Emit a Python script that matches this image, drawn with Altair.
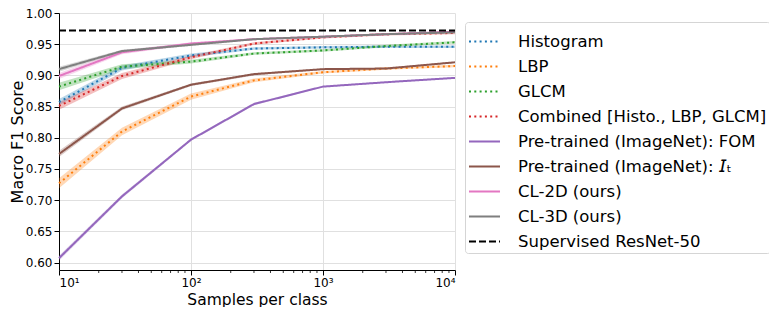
import altair as alt
import pandas as pd

# ---------------- data ----------------
x_samples = [10, 30, 100, 300, 1000, 3000, 10000]

series_names = [
    "Histogram",
    "LBP",
    "GLCM",
    "Combined [Histo., LBP, GLCM]",
    "Pre-trained (ImageNet): FOM",
    "Pre-trained (ImageNet): 𝘐ₜ",
    "CL-2D (ours)",
    "CL-3D (ours)",
    "Supervised ResNet-50",
]

histogram = [0.857, 0.912, 0.932, 0.943, 0.945, 0.946, 0.946]
lbp = [0.727, 0.810, 0.866, 0.892, 0.905, 0.911, 0.915]
glcm = [0.882, 0.914, 0.922, 0.935, 0.940, 0.947, 0.953]
combined = [0.851, 0.899, 0.929, 0.951, 0.961, 0.966, 0.968]
fom = [0.607, 0.706, 0.797, 0.854, 0.882, 0.889, 0.896]
imagenet_it = [0.774, 0.847, 0.885, 0.902, 0.910, 0.911, 0.921]
cl2d = [0.899, 0.937, 0.951, 0.958, 0.962, 0.966, 0.970]
cl3d = [0.910, 0.939, 0.949, 0.958, 0.962, 0.966, 0.969]
supervised = 0.972

# half-width of the shaded bands
histogram_err = [0.005, 0.004, 0.003, 0.002, 0.002, 0.002, 0.002]
lbp_err = [0.008, 0.006, 0.005, 0.003, 0.002, 0.002, 0.002]
glcm_err = [0.006, 0.004, 0.003, 0.002, 0.002, 0.002, 0.002]
combined_err = [0.006, 0.005, 0.003, 0.002, 0.002, 0.002, 0.002]
fom_err = [0.004, 0.003, 0.002, 0.002, 0.001, 0.001, 0.001]
imagenet_it_err = [0.005, 0.003, 0.002, 0.002, 0.001, 0.001, 0.001]
cl2d_err = [0.005, 0.003, 0.002, 0.001, 0.001, 0.001, 0.001]
cl3d_err = [0.004, 0.002, 0.002, 0.001, 0.001, 0.001, 0.001]

x_major_ticks = [10, 100, 1000, 10000]
x_minor_ticks = [20, 30, 40, 50, 60, 70, 80, 90,
                 200, 300, 400, 500, 600, 700, 800, 900,
                 2000, 3000, 4000, 5000, 6000, 7000, 8000, 9000]
y_ticks = [0.60, 0.65, 0.70, 0.75, 0.80, 0.85, 0.90, 0.95, 1.00]

# ---------------- styles ----------------
colors = ["#1f77b4", "#ff7f0e", "#2ca02c", "#d62728", "#9467bd",
          "#8c564b", "#e377c2", "#7f7f7f", "#000000"]
dashes = [[2, 3.3]] * 4 + [[1, 0]] * 4 + [[7, 3]]
widths = [2, 2, 2, 2, 1.8, 1.8, 3, 3, 1.8]

values_list = [histogram, lbp, glcm, combined, fom, imagenet_it, cl2d, cl3d]
err_list = [histogram_err, lbp_err, glcm_err, combined_err, fom_err,
            imagenet_it_err, cl2d_err, cl3d_err]

rows = []
for name, vals, errs in zip(series_names[:8], values_list, err_list):
    for x, v, e in zip(x_samples, vals, errs):
        rows.append({"series": name, "samples": x, "score": v,
                     "lo": v - e, "hi": v + e})
for x in [x_samples[0], x_samples[-1]]:
    rows.append({"series": series_names[8], "samples": x, "score": supervised,
                 "lo": supervised, "hi": supervised})
df = pd.DataFrame(rows)

minor_df = pd.DataFrame({"samples": x_minor_ticks})

W, H = 396, 257

xscale = alt.Scale(type="log", domain=[10, 10000], nice=False)
yscale = alt.Scale(domain=[0.588, 1.0], nice=False, zero=False)
color_scale = alt.Scale(domain=series_names, range=colors)
dash_scale = alt.Scale(domain=series_names, range=dashes)
width_scale = alt.Scale(domain=series_names, range=widths)

xaxis = alt.Axis(
    values=x_major_ticks,
    labelExpr="'10' + ['⁰','¹','²','³','⁴','⁵'][round(log(datum.value)/LN10)]",
    title="Samples per class",
    grid=True,
)
yaxis = alt.Axis(values=y_ticks, format=".2f", title="Macro F1 Score", grid=True)

legend = alt.Legend(
    title=None,
    orient="none",
    legendX=406,
    legendY=9,
)

layers = []
# shaded bands
for i, name in enumerate(series_names[:8]):
    layers.append(
        alt.Chart(df)
        .transform_filter(alt.datum.series == name)
        .mark_area(opacity=0.3, strokeWidth=0, color=colors[i])
        .encode(
            x=alt.X("samples:Q", scale=xscale, axis=xaxis),
            y=alt.Y("lo:Q", scale=yscale, axis=yaxis),
            y2="hi:Q",
        )
    )
# lines
for name in series_names:
    layers.append(
        alt.Chart(df)
        .transform_filter(alt.datum.series == name)
        .mark_line()
        .encode(
            x=alt.X("samples:Q", scale=xscale, axis=xaxis),
            y=alt.Y("score:Q", scale=yscale, axis=yaxis),
            color=alt.Color("series:N", scale=color_scale, legend=legend),
            strokeDash=alt.StrokeDash("series:N", scale=dash_scale, legend=legend),
            strokeWidth=alt.StrokeWidth("series:N", scale=width_scale, legend=legend),
        )
    )
# minor ticks on the log axis
layers.append(
    alt.Chart(minor_df)
    .mark_rule(color="black", strokeWidth=0.8)
    .encode(
        x=alt.X("samples:Q", scale=xscale, axis=xaxis),
        y=alt.value(H),
        y2=alt.value(H + 3),
    )
)

chart = (
    alt.layer(*layers)
    .properties(
        width=W,
        height=H,
        autosize=alt.AutoSizeParams(type="none"),
        padding={"left": 51, "top": 5, "right": 314, "bottom": 37},
    )
    .configure_view(stroke=None)
    .configure_axis(
        labelFont="DejaVu Sans",
        titleFont="DejaVu Sans",
        labelFontSize=12,
        titleFontSize=15.5,
        titleFontWeight="normal",
        labelColor="black",
        titleColor="black",
        domainColor="black",
        tickColor="black",
        tickSize=5,
        domainWidth=1,
        tickWidth=1,
        gridColor="#e0e0e0",
        gridWidth=1,
        labelPadding=2,
    )
    .configure_axisX(titlePadding=4)
    .configure_axisY(titlePadding=0, titleFontSize=16)
    .configure_legend(
        symbolType="stroke",
        symbolSize=961,
        labelFont="DejaVu Sans",
        labelFontSize=16.5,
        labelColor="black",
        labelLimit=400,
        labelOffset=17,
        rowPadding=-1.7,
        padding=3,
        strokeColor="#d5d5d5",
        fillColor="white",
        cornerRadius=3,
    )
)

chart.save("out.html", embed_options={"renderer": "svg", "actions": False})
